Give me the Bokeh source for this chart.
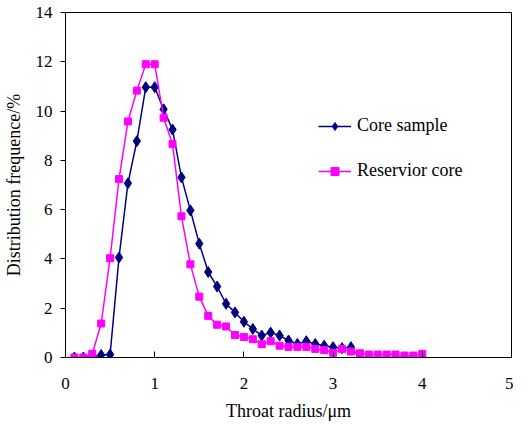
from bokeh.plotting import figure
from bokeh.models import Range1d, FixedTicker, Legend, LegendItem
from bokeh.embed import file_html
from bokeh.resources import INLINE

radius = [0.1, 0.2, 0.3, 0.4, 0.5, 0.6, 0.7, 0.8, 0.9, 1.0,
          1.1, 1.2, 1.3, 1.4, 1.5, 1.6, 1.7, 1.8, 1.9, 2.0,
          2.1, 2.2, 2.3, 2.4, 2.5, 2.6, 2.7, 2.8, 2.9, 3.0,
          3.1, 3.2, 3.3, 3.4, 3.5, 3.6, 3.7, 3.8, 3.9, 4.0]
core_sample = [0, 0, 0.02, 0.1, 0.12, 4.06, 7.07, 8.78, 10.97, 10.97,
               10.07, 9.25, 7.31, 5.97, 4.62, 3.47, 2.88, 2.18, 1.83, 1.45,
               1.16, 0.89, 1.01, 0.89, 0.69, 0.55, 0.66, 0.55, 0.48, 0.42,
               0.38, 0.42, 0, 0, 0, 0, 0, 0, 0, 0]
reservoir_core = [0, 0, 0.15, 1.38, 4.03, 7.24, 9.58, 10.83, 11.9, 11.9,
                  9.73, 8.66, 5.73, 3.78, 2.47, 1.69, 1.33, 1.26, 0.91, 0.83,
                  0.74, 0.54, 0.66, 0.48, 0.43, 0.43, 0.43, 0.35, 0.3, 0.19,
                  0.35, 0.24, 0.17, 0.12, 0.12, 0.12, 0.12, 0.08, 0.08, 0.15]
x_ticks = [0, 1, 2, 3, 4, 5]
y_ticks = [0, 2, 4, 6, 8, 10, 12, 14]

FONT = "Liberation Serif"

p = figure(width=513, height=423, output_backend="svg", toolbar_location=None,
           x_range=Range1d(0, 5), y_range=Range1d(0, 14),
           min_border_left=64, min_border_right=2, min_border_top=12, min_border_bottom=66)
p.grid.visible = False
p.outline_line_color = "black"
p.outline_line_width = 1
p.background_fill_color = "white"
p.border_fill_color = "white"

for ax in (p.xaxis[0], p.yaxis[0]):
    ax.axis_line_color = "black"
    ax.major_tick_line_color = "black"
    ax.minor_tick_line_color = None
    ax.major_label_text_font = FONT
    ax.major_label_text_font_size = "17px"
    ax.major_label_text_color = "black"
    ax.axis_label_text_font = FONT
    ax.axis_label_text_font_size = "18px"
    ax.axis_label_text_font_style = "normal"
    ax.axis_label_text_color = "black"

p.xaxis.ticker = FixedTicker(ticks=x_ticks)
p.yaxis.ticker = FixedTicker(ticks=y_ticks)
p.xaxis.major_tick_in = 6
p.xaxis.major_tick_out = 0
p.xaxis.major_label_standoff = 20
p.xaxis.axis_label = "Throat radius/μm"
p.xaxis.axis_label_standoff = 9
p.yaxis.major_tick_in = 0
p.yaxis.major_tick_out = 5
p.yaxis.major_label_standoff = 8
p.yaxis.axis_label = "Distribution frequence/%"
p.yaxis.axis_label_standoff = 9

l1 = p.line(radius, core_sample, line_color="#000080", line_width=1.5)
m1 = p.scatter(radius, core_sample, marker="diamond", size=11,
               fill_color="#000080", line_color="#000080")
l2 = p.line(radius, reservoir_core, line_color="#FF00FF", line_width=1.5)
m2 = p.scatter(radius, reservoir_core, marker="square", size=7,
               fill_color="#FF00FF", line_color="#FF00FF")

legend = Legend(items=[LegendItem(label="Core sample", renderers=[l1, m1]),
                       LegendItem(label="Reservior core", renderers=[l2, m2])],
                location=(253, 176))
legend.background_fill_alpha = 0
legend.border_line_color = None
legend.padding = 0
legend.margin = 0
legend.spacing = 24
legend.glyph_width = 33
legend.glyph_height = 20
legend.label_height = 20
legend.label_standoff = 6
legend.label_text_font = FONT
legend.label_text_font_size = "18px"
legend.label_text_color = "black"
p.add_layout(legend, "center")

open("out.html", "w").write(file_html(p, INLINE))
